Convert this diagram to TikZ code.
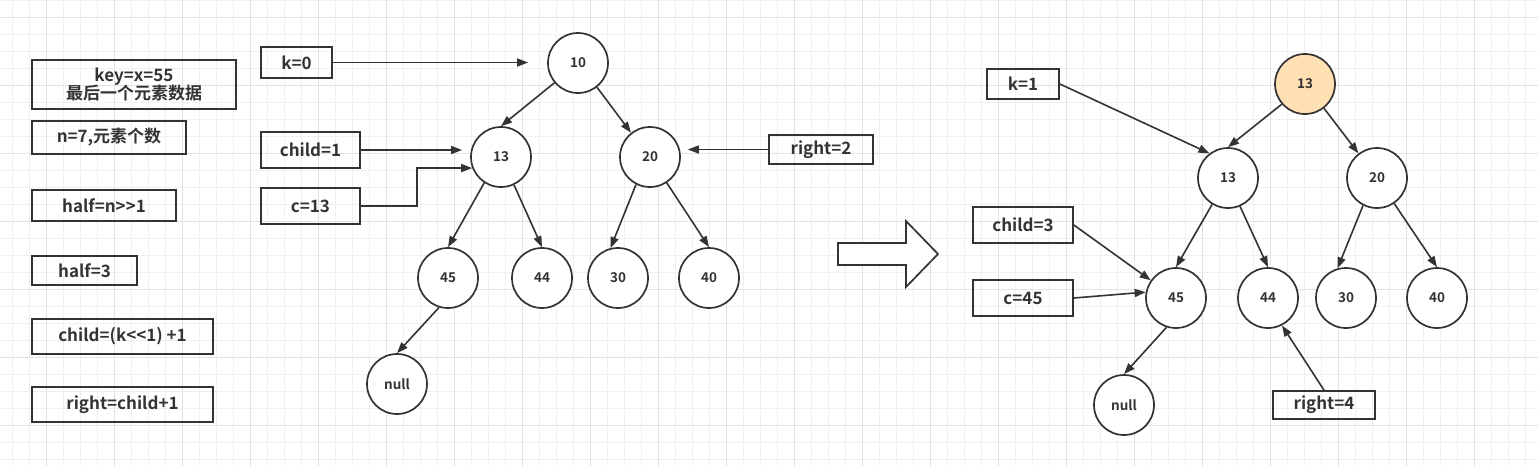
\documentclass[tikz,border=0pt]{standalone}
\usepackage{fontspec}
\setmainfont{Noto Sans CJK SC}[BoldFont={Noto Sans CJK SC Bold},Ligatures=TeXReset]
\usetikzlibrary{arrows.meta}
\definecolor{ink}{HTML}{333333}
\definecolor{gridminor}{HTML}{F0F0F0}
\definecolor{gridmajor}{HTML}{E2E2E2}
\definecolor{heapfill}{HTML}{FFE0B3}
\begin{document}
\begin{tikzpicture}[x=1pt,y=-1pt,
  var/.style={draw=ink,line width=1.7pt,text=ink,font=\fontsize{17}{20}\selectfont\bfseries,inner sep=0pt},
  elem/.style={circle,draw=ink,line width=1.7pt,fill=white,text=ink,minimum size=60pt,inner sep=0pt,font=\fontsize{13.5}{15}\selectfont\bfseries},
  link/.style={draw=ink,line width=1.6pt,-{Triangle[length=11pt,width=8pt]}}]
  \useasboundingbox (0,0) rectangle (1538,466);
  % grid
  \foreach \x in {12.7,29.7,...,1538} \draw[gridminor,line width=1pt] (\x,0) -- (\x,466);
  \foreach \y in {0.3,17.3,...,466} \draw[gridminor,line width=1pt] (0,\y) -- (1538,\y);
  \foreach \x in {46.7,114.7,...,1538} \draw[gridmajor,line width=1pt] (\x,0) -- (\x,466);
  \foreach \y in {17.3,85.3,...,466} \draw[gridmajor,line width=1pt] (0,\y) -- (1538,\y);
  % variables
  \node[var,minimum width=204pt,minimum height=49pt,align=center] (keyx) at (134,84.5) {key=x=55\\[-2pt]最后一个元素数据};
  \node[var,minimum width=154pt,minimum height=33pt] (num) at (109,137.5) {n=7,元素个数};
  \node[var,minimum width=144pt,minimum height=31pt] (halfa) at (104,205.5) {half=n>{}>1};
  \node[var,minimum width=105pt,minimum height=29pt] (halfb) at (84.5,270.5) {half=3};
  \node[var,minimum width=181pt,minimum height=35pt] (childf) at (122.5,336.5) {child=(k<{}<1) +1};
  \node[var,minimum width=181pt,minimum height=35pt] (rightf) at (122.5,404.5) {right=child+1};
  % before
  \begin{scope}
    \node[elem] (ten) at (578,63) {10};
    \node[elem] (thirteen) at (501,157) {13};
    \node[elem] (twenty) at (650,157) {20};
    \node[elem] (fortyfive) at (448,278) {45};
    \node[elem] (fortyfour) at (542,278) {44};
    \node[elem] (thirty) at (618,278) {30};
    \node[elem] (forty) at (709,278) {40};
    \node[elem] (nil) at (397,384) {null};
    \node[var,minimum width=71pt,minimum height=31pt] (kzero) at (296.5,62.5) {k=0};
    \node[var,minimum width=99pt,minimum height=36pt] (childone) at (310.5,150) {child=1};
    \node[var,minimum width=99pt,minimum height=36pt] (cthirteen) at (310.5,206) {c=13};
    \node[var,minimum width=104pt,minimum height=29pt] (righttwo) at (821,149.5) {right=2};
    \draw[link] (ten.220) -- (thirteen.north);
    \draw[link] (ten.308) -- (twenty.128);
    \draw[link] (thirteen.237) -- (fortyfive.north);
    \draw[link] (thirteen.295) -- (fortyfour.north);
    \draw[link] (twenty.243) -- (thirty.104);
    \draw[link] (twenty.303) -- (forty.north);
    \draw[link] (fortyfive.253) -- (nil.north);
    \draw[link,shorten >=19pt] (kzero.east) -- (kzero.east -| ten.west);
    \draw[link,shorten >=8pt] (childone.east) -- (childone.east -| thirteen.west);
    \draw[link] (cthirteen.east) -- ([xshift=56pt]cthirteen.east) |- (thirteen.201);
    \draw[link,shorten >=7pt] (righttwo.west) -- (righttwo.west -| twenty.east);
  \end{scope}
  % step arrow
  \draw[draw=ink,line width=1.7pt,fill=white] (838,243) -- (906,243) -- (906,221) -- (938,254)
    -- (906,287) -- (906,265) -- (838,265) -- cycle;
  % after
  \begin{scope}
    \node[elem,fill=heapfill] (top) at (1305,84) {13};
    \node[elem] (thirteenb) at (1228,178) {13};
    \node[elem] (twentyb) at (1377,178) {20};
    \node[elem] (fortyfiveb) at (1176,298) {45};
    \node[elem] (fortyfourb) at (1268,298) {44};
    \node[elem] (thirtyb) at (1346,298) {30};
    \node[elem] (fortyb) at (1437,298) {40};
    \node[elem] (nilb) at (1124,405) {null};
    \node[var,minimum width=72pt,minimum height=30pt] (kone) at (1023,84) {k=1};
    \node[var,minimum width=100pt,minimum height=36pt] (childthree) at (1023,225) {child=3};
    \node[var,minimum width=100pt,minimum height=36pt] (cfortyfive) at (1023,298) {c=45};
    \node[var,minimum width=102pt,minimum height=28pt] (rightfour) at (1324,405) {right=4};
    \draw[link] (top.221) -- (thirteenb.north);
    \draw[link] (top.308) -- (twentyb.127);
    \draw[link] (thirteenb.239) -- (fortyfiveb.north);
    \draw[link] (thirteenb.293) -- (fortyfourb.north);
    \draw[link] (twentyb.243) -- (thirtyb.106);
    \draw[link] (twentyb.304) -- (fortyb.north);
    \draw[link] (fortyfiveb.252) -- (nilb.north);
    \draw[link] (kone.east) -- (thirteenb.127);
    \draw[link] (childthree.east) -- (fortyfiveb.145);
    \draw[link] (cfortyfive.east) -- (fortyfiveb.169);
    \draw[link] (rightfour.north) -- (fortyfourb.297);
  \end{scope}
\end{tikzpicture}
\end{document}
